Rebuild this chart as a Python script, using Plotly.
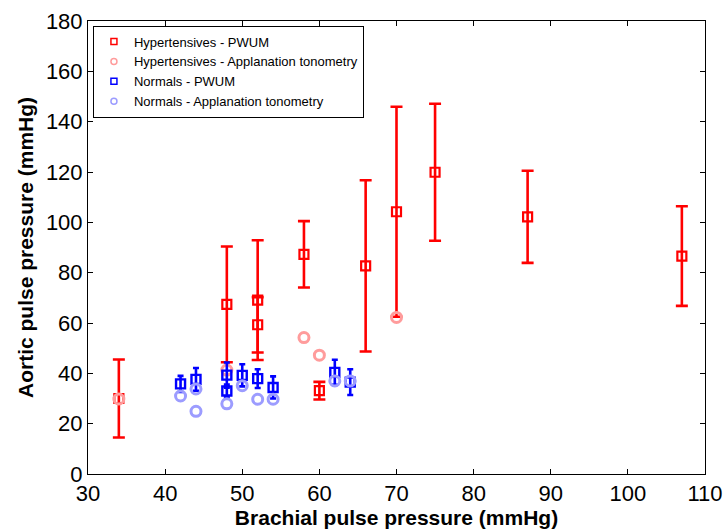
import plotly.graph_objects as go

# Hypertensives - PWUM (mean +/- SD)
hyp_x = [34, 48, 52, 52, 58, 60, 66, 70, 75, 87, 107]
hyp_y = [30, 67.4, 69.1, 59.3, 87.3, 33.1, 82.7, 104.2, 119.9, 102.2, 86.6]
hyp_err = [15.5, 23, 23.8, 11, 13.2, 3.5, 34, 41.7, 27.2, 18.3, 19.8]

# Hypertensives - Applanation tonometry
hyp_at_x = [34, 48, 58, 60, 70]
hyp_at_y = [29.8, 41.3, 54.2, 47.2, 62.2]

# Normals - PWUM
norm_x = [42, 44, 48, 48, 50, 52, 54, 62, 64]
norm_y = [35.8, 37.6, 39.3, 33, 39.2, 37.9, 34.4, 40.4, 36.5]
norm_err = [3.2, 4.5, 5, 2.5, 4.4, 3.7, 4.4, 5, 5.1]

# Normals - Applanation tonometry
norm_at_x = [42, 44, 44, 48, 50, 52, 54, 62, 64]
norm_at_y = [31, 33.8, 24.9, 27.9, 35.1, 29.7, 29.7, 37, 37]

x_ticks = [30, 40, 50, 60, 70, 80, 90, 100, 110]
y_ticks = [0, 20, 40, 60, 80, 100, 120, 140, 160, 180]

RED = "#ff0000"
PINK = "#ff9c9c"
BLUE = "#0000ff"
LBLUE = "#9c9cff"
FONT = "Arial, Liberation Sans, sans-serif"

fig = go.Figure()

fig.add_trace(go.Scatter(
    x=hyp_x, y=hyp_y, mode="markers", showlegend=False,
    marker=dict(symbol="square-open", size=9, color=RED, line=dict(width=2.2)),
    error_y=dict(type="data", array=hyp_err, color=RED, thickness=2.6, width=6),
))
fig.add_trace(go.Scatter(
    x=hyp_at_x, y=hyp_at_y, mode="markers", showlegend=False,
    marker=dict(symbol="circle-open", size=10, color=PINK, line=dict(width=3)),
))
fig.add_trace(go.Scatter(
    x=norm_x, y=norm_y, mode="markers", showlegend=False,
    marker=dict(symbol="square-open", size=9, color=BLUE, line=dict(width=2.4)),
    error_y=dict(type="data", array=norm_err, color=BLUE, thickness=2.6, width=3),
))
fig.add_trace(go.Scatter(
    x=norm_at_x, y=norm_at_y, mode="markers", showlegend=False,
    marker=dict(symbol="circle-open", size=10, color=LBLUE, line=dict(width=3)),
))

# legend entries (small symbols like the reference)
legend_items = [
    ("Hypertensives - PWUM", "square-open", RED),
    ("Hypertensives - Applanation tonometry", "circle-open", PINK),
    ("Normals - PWUM", "square-open", BLUE),
    ("Normals - Applanation tonometry", "circle-open", LBLUE),
]
for name, sym, col in legend_items:
    fig.add_trace(go.Scatter(
        x=[None], y=[None], mode="markers", name=name,
        marker=dict(symbol=sym, size=6, color=col, line=dict(width=1.5)),
    ))

axis_common = dict(
    showline=True, linecolor="black", linewidth=1, mirror="allticks",
    ticks="inside", ticklen=5, tickcolor="black", showgrid=False, zeroline=False,
    automargin=False,
    tickfont=dict(family=FONT, size=22, color="black"),
)

fig.update_layout(
    width=723, height=529,
    margin=dict(l=88, r=18, t=21, b=55),
    paper_bgcolor="white", plot_bgcolor="white",
    font=dict(family=FONT, color="black"),
    xaxis=dict(range=[30, 110], tickvals=x_ticks,
               title=dict(text="<b>Brachial pulse pressure (mmHg)</b>",
                          font=dict(family=FONT, size=21), standoff=0),
               **axis_common),
    yaxis=dict(range=[0, 180], tickvals=y_ticks,
               title=dict(text="<b>Aortic pulse pressure (mmHg)</b>",
                          font=dict(family=FONT, size=21), standoff=6),
               **axis_common),
    legend=dict(x=0.008, y=0.99, xanchor="left", yanchor="top",
                bgcolor="white", bordercolor="black", borderwidth=1,
                font=dict(family=FONT, size=13), itemwidth=30,
                tracegroupgap=0),
)

fig.write_html("out.html", config={"displayModeBar": False},
               post_script="document.body.style.margin='0';")
